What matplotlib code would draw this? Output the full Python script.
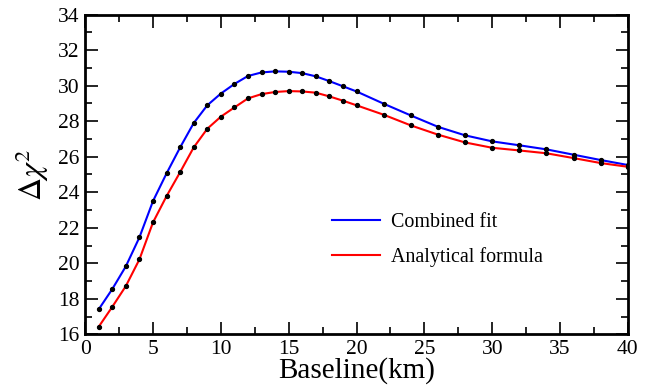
import matplotlib
matplotlib.use("Agg")
import matplotlib.pyplot as plt
from matplotlib.ticker import MultipleLocator

# Baseline (km) and Delta chi^2 values
baseline = [1, 2, 3, 4, 5, 6, 7, 8, 9, 10, 11, 12, 13, 14, 15, 16, 17, 18, 19, 20,
            22, 24, 26, 28, 30, 32, 34, 36, 38, 40]
combined_fit = [17.41, 18.55, 19.83, 21.46, 23.50, 25.06, 26.52, 27.89, 28.89, 29.55,
                30.09, 30.54, 30.74, 30.80, 30.78, 30.70, 30.52, 30.25, 29.96, 29.67,
                28.98, 28.32, 27.68, 27.20, 26.86, 26.64, 26.41, 26.11, 25.81, 25.53]
analytical = [16.43, 17.55, 18.72, 20.22, 22.30, 23.78, 25.13, 26.52, 27.57, 28.25,
              28.77, 29.28, 29.52, 29.64, 29.69, 29.67, 29.60, 29.39, 29.15, 28.89,
              28.36, 27.76, 27.24, 26.80, 26.50, 26.35, 26.19, 25.92, 25.64, 25.43]

plt.rcParams['font.family'] = ['Liberation Serif', 'DejaVu Serif']
plt.rcParams['mathtext.fontset'] = 'stix'

fig = plt.figure(figsize=(6.5, 3.92), dpi=100)
ax = fig.add_axes([0.131, 0.147, 0.835, 0.816])

ax.plot(baseline, combined_fit, '-', color='#0000ff', lw=1.5, label='Combined fit')
ax.plot(baseline, analytical, '-', color='#ff0000', lw=1.5, label='Analytical formula')
ax.plot(baseline, combined_fit, 'o', color='black', ms=2.8, zorder=3)
ax.plot(baseline, analytical, 'o', color='black', ms=2.8, zorder=3)

ax.set_xlim(0, 40)
ax.set_ylim(16, 34)
ax.xaxis.set_major_locator(MultipleLocator(5))
ax.xaxis.set_minor_locator(MultipleLocator(2.5))
ax.yaxis.set_major_locator(MultipleLocator(2))
ax.yaxis.set_minor_locator(MultipleLocator(1))
ax.tick_params(which='both', direction='in', top=True, right=True, labelsize=15.5, width=1.2)
ax.tick_params(which='major', length=9)
ax.tick_params(which='minor', length=5)
ax.tick_params(axis='x', pad=4)
ax.tick_params(axis='y', pad=4)
for s in ax.spines.values():
    s.set_linewidth(2)

ax.set_xlabel('Baseline(km)', fontsize=21, labelpad=-1)
ax.set_ylabel(r'$\Delta\chi^2$', fontsize=23, labelpad=5)

ax.legend(loc='center left', bbox_to_anchor=(0.422, 0.296), frameon=False,
          fontsize=14.4, handlelength=2.4, labelspacing=0.75, handletextpad=0.55)

fig.savefig('out.png', dpi=100)
